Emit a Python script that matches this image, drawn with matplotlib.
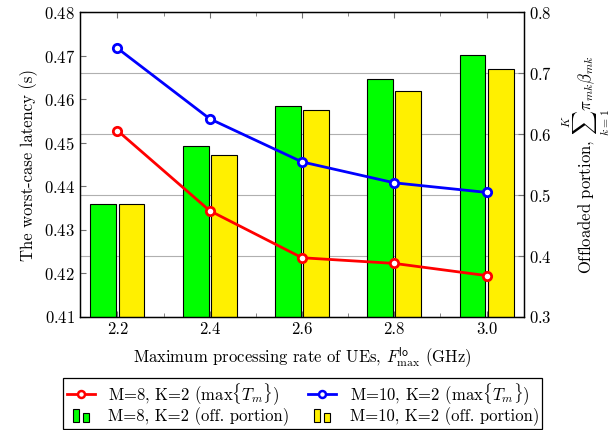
import matplotlib
matplotlib.use("Agg")
from matplotlib import pyplot as plt
from matplotlib.legend_handler import HandlerBase
from matplotlib.patches import Rectangle
from matplotlib.lines import Line2D
import numpy as np

plt.rcParams['font.family'] = ['cmr10', 'DejaVu Serif']
plt.rcParams['mathtext.fontset'] = 'cm'
plt.rcParams['axes.formatter.use_mathtext'] = True
plt.rcParams['font.size'] = 12

# data
rate = np.array([2.2, 2.4, 2.6, 2.8, 3.0])
latency_m8 = np.array([0.4528, 0.4344, 0.4236, 0.4223, 0.4195])
latency_m10 = np.array([0.4717, 0.4555, 0.4456, 0.4408, 0.4386])
portion_m8 = np.array([0.486, 0.581, 0.646, 0.691, 0.729])
portion_m10 = np.array([0.485, 0.566, 0.639, 0.670, 0.707])
xtick_labels = ["2.2", "2.4", "2.6", "2.8", "3.0"]

green = '#00FF00'
yellow = '#FFF000'


class TwoBarHandler(HandlerBase):
    # small "ybar legend" style: two little bars side by side
    def create_artists(self, legend, orig_handle, xdescent, ydescent,
                       width, height, fontsize, trans):
        fc = orig_handle.get_facecolor()
        w = width * 0.22
        r1 = Rectangle((width * 0.22 - xdescent, -ydescent - height * 0.15), w, height * 1.15,
                       facecolor=fc, edgecolor='black', lw=0.8, transform=trans)
        r2 = Rectangle((width * 0.56 - xdescent, -ydescent - height * 0.15), w, height * 0.85,
                       facecolor=fc, edgecolor='black', lw=0.8, transform=trans)
        return [r1, r2]


fig = plt.figure(figsize=(6.13, 4.30), dpi=100)
ax = fig.add_axes([0.1305, 0.2628, 0.7243, 0.7092])
ax2 = ax.twinx()

# bars on the right axis
bw = 0.056
ax2.bar(rate - 0.0305, portion_m8, width=bw, color=green, edgecolor='black', linewidth=0.8, zorder=2)
ax2.bar(rate + 0.0305, portion_m10, width=bw, color=yellow, edgecolor='black', linewidth=0.8, zorder=2)
ax2.set_ylim(0.3, 0.8)
ax2.set_yticks([0.3, 0.4, 0.5, 0.6, 0.7, 0.8])
ax2.yaxis.grid(True, color='#b0b0b0', linewidth=0.8)
ax2.set_axisbelow(True)
ax2.set_ylabel(r"Offloaded portion, $\sum_{k=1}^{K}\pi_{mk}\beta_{mk}$", labelpad=6)

# lines on the left axis, drawn over the bars
ax.set_zorder(ax2.get_zorder() + 1)
ax.patch.set_visible(False)
ax.plot(rate, latency_m8, color='red', lw=2, marker='o', ms=6, mfc='white', mec='red', mew=2)
ax.plot(rate, latency_m10, color='blue', lw=2, marker='o', ms=6, mfc='white', mec='blue', mew=2)
ax.set_ylim(0.41, 0.48)
ax.set_yticks(np.arange(0.41, 0.4801, 0.01))
ax.set_xlim(2.119, 3.081)
ax.set_xticks(rate)
ax.set_xticklabels(xtick_labels)
ax.set_xticks([2.3, 2.5, 2.7, 2.9], minor=True)
ax.set_ylabel("The worst-case latency (s)")
ax.set_xlabel(r"Maximum processing rate of UEs, $F^{\mathsf{lo}}_{\max}$ (GHz)", labelpad=6)

ax.tick_params(which='both', direction='in', top=True, color='#707070')
ax.tick_params(which='major', length=4)
ax.tick_params(which='minor', length=3)
ax2.tick_params(direction='in', length=4, color='#707070')
for a in (ax, ax2):
    for s in a.spines.values():
        s.set_linewidth(0.9)

handles = [
    Line2D([], [], color='red', lw=2, marker='o', ms=5, mfc='white', mec='red', mew=1.8),
    Rectangle((0, 0), 1, 1, facecolor=green),
    Line2D([], [], color='blue', lw=2, marker='o', ms=5, mfc='white', mec='blue', mew=1.8),
    Rectangle((0, 0), 1, 1, facecolor=yellow),
]
labels = [
    r"M=8, K=2 ($\max\{T_m\}$)",
    "M=8, K=2 (off. portion)",
    r"M=10, K=2 ($\max\{T_m\}$)",
    "M=10, K=2 (off. portion)",
]
leg = fig.legend(handles, labels, ncol=2, loc='center', bbox_to_anchor=(0.494, 0.062),
                 handler_map={Rectangle: TwoBarHandler()}, frameon=True, fancybox=False,
                 edgecolor='black', framealpha=1, handlelength=1.7, handletextpad=0.8,
                 columnspacing=1.1, labelspacing=0.0, borderpad=0.2, borderaxespad=0)
leg.get_frame().set_linewidth(0.9)

fig.savefig("out.png", dpi=100)
